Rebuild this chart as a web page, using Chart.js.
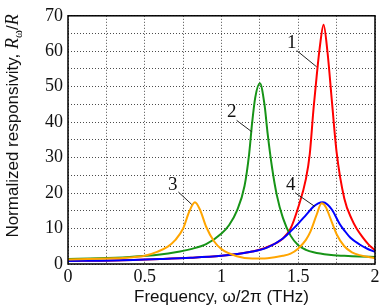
<!DOCTYPE html>
<html>
<head>
<meta charset="utf-8">
<script src="https://cdn.jsdelivr.net/npm/chart.js@4.4.1/dist/chart.umd.min.js"></script>
<style>
  body { margin: 0; background: #fff; }
  canvas { display: block; }
</style>
</head>
<body>
<canvas id="myChart" width="382" height="307"></canvas>
<script>
// curve 1 (red)
const freqRed = [0, 0.3, 0.6, 0.8, 1.0, 1.1, 1.2, 1.3, 1.4, 1.45, 1.5, 1.55, 1.575, 1.6, 1.62, 1.64, 1.665, 1.69, 1.72, 1.75, 1.8, 1.85, 1.88, 1.92, 1.96, 2.0];
const valRed  = [0.85, 1.0, 1.4, 1.75, 2.3, 2.8, 3.5, 4.8, 7.2, 10, 16, 24, 31, 44, 53, 61, 67.5, 60, 45.5, 31.5, 18.5, 12.5, 10, 7.5, 5.4, 3.9];
// curve 2 (green)
const freqGreen = [0, 0.2, 0.4, 0.6, 0.7, 0.8, 0.9, 1.0, 1.05, 1.1, 1.15, 1.18, 1.2, 1.22, 1.25, 1.28, 1.3, 1.33, 1.36, 1.4, 1.45, 1.5, 1.55, 1.6, 1.7, 1.8, 1.9, 2.0];
const valGreen  = [1.4, 1.6, 2.0, 2.7, 3.3, 4.2, 5.6, 8.6, 11, 15, 22, 31, 40, 47, 51, 45, 37, 27, 19.5, 13, 8, 5.3, 4.0, 3.3, 2.6, 2.3, 2.1, 2.0];
// curve 3 (orange)
const freqOrange = [0, 0.2, 0.3, 0.4, 0.5, 0.58, 0.65, 0.7, 0.75, 0.79, 0.827, 0.86, 0.9, 0.95, 1.0, 1.1, 1.2, 1.3, 1.4, 1.45, 1.5, 1.55, 1.58, 1.62, 1.652, 1.68, 1.71, 1.75, 1.8, 1.85, 1.9, 2.0];
const valOrange  = [1.3, 1.45, 1.6, 1.85, 2.3, 3.4, 4.9, 6.8, 10, 14.8, 17.4, 15.3, 10.5, 6.5, 4.2, 2.2, 1.55, 1.65, 2.3, 2.9, 4.4, 6.8, 9.2, 13.9, 17.1, 16, 12.8, 8.4, 5.0, 3.3, 2.5, 1.6];
// curve 4 (blue)
const freqBlue = [0, 0.3, 0.6, 0.8, 1.0, 1.1, 1.2, 1.3, 1.4, 1.45, 1.5, 1.55, 1.6, 1.63, 1.66, 1.69, 1.72, 1.77, 1.8, 1.84, 1.9, 1.95, 2.0];
const valBlue  = [0.85, 1.0, 1.4, 1.75, 2.3, 2.8, 3.5, 4.7, 7.2, 9.2, 11.4, 13.8, 16.2, 17.1, 17.4, 16.8, 15.3, 11.3, 9.5, 7.4, 5.5, 4.3, 3.4];

const xTickLabels = [0, 0.5, 1, 1.5, 2];
const yTickLabels = [0, 10, 20, 30, 40, 50, 60, 70];

// curve numbers and their leader lines (data units)
const curveNames = ["1", "2", "3", "4"];
const nameX = [1.457, 1.066, 0.682, 1.451];
const nameY = [62.4, 42.8, 22.3, 22.2];
const leaderFrom = [[1.49, 60.2], [1.099, 40.5], [0.719, 20.3], [1.479, 20.1]];
const leaderTo = [[1.62, 55.6], [1.197, 37.3], [0.806, 16.8], [1.609, 16.2]];

const SERIF = "'Liberation Serif', 'Times New Roman', serif";
const SANS = "'Liberation Sans', Arial, sans-serif";

function toPoints(xs, ys) {
  return xs.map((x, i) => ({ x: x, y: ys[i] }));
}

const extras = {
  id: "extras",
  afterDatasetsDraw(chart) {
    const ctx = chart.ctx;
    const a = chart.chartArea;
    const sx = chart.scales.x;
    const sy = chart.scales.y;
    ctx.save();
    // frame
    ctx.strokeStyle = "#000";
    ctx.lineWidth = 1.5;
    ctx.strokeRect(a.left, a.top, a.right - a.left, a.bottom - a.top);
    // curve numbers
    ctx.lineWidth = 1;
    ctx.strokeStyle = "#222";
    ctx.fillStyle = "#111";
    ctx.font = "19px " + SERIF;
    ctx.textAlign = "center";
    ctx.textBaseline = "middle";
    curveNames.forEach((n, i) => {
      ctx.fillText(n, sx.getPixelForValue(nameX[i]), sy.getPixelForValue(nameY[i]));
      ctx.beginPath();
      ctx.moveTo(sx.getPixelForValue(leaderFrom[i][0]), sy.getPixelForValue(leaderFrom[i][1]));
      ctx.lineTo(sx.getPixelForValue(leaderTo[i][0]), sy.getPixelForValue(leaderTo[i][1]));
      ctx.stroke();
    });
    // x title
    ctx.font = "17px " + SANS;
    ctx.textBaseline = "alphabetic";
    ctx.fillText("Frequency, \u03c9/2\u03c0 (THz)", (a.left + a.right) / 2, 302);
    // y title with R_omega / R
    const parts = [
      { t: "Normalized responsivity, ", f: "17px " + SANS, dy: 0 },
      { t: "R", f: "italic 18px " + SERIF, dy: 0 },
      { t: "\u03c9", f: "12px " + SERIF, dy: 4 },
      { t: "/", f: "17px " + SANS, dy: 0 },
      { t: "R", f: "italic 18px " + SERIF, dy: 0 }
    ];
    let total = 0;
    parts.forEach(p => { ctx.font = p.f; p.w = ctx.measureText(p.t).width; total += p.w; });
    ctx.translate(18, 126);
    ctx.rotate(-Math.PI / 2);
    ctx.textAlign = "left";
    let px = -total / 2;
    parts.forEach(p => {
      ctx.font = p.f;
      ctx.fillText(p.t, px, p.dy);
      px += p.w;
    });
    ctx.restore();
  }
};

const data = {
  datasets: [
    { label: "3", data: toPoints(freqOrange, valOrange), borderColor: "#ffa500" },
    { label: "4", data: toPoints(freqBlue, valBlue), borderColor: "#0000ff" },
    { label: "2", data: toPoints(freqGreen, valGreen), borderColor: "#179417" },
    { label: "1", data: toPoints(freqRed, valRed), borderColor: "#ff0000" }
  ].map(d => Object.assign(d, {
    borderWidth: 2,
    pointRadius: 0,
    fill: false,
    cubicInterpolationMode: "monotone"
  }))
};

const config = {
  type: "line",
  data,
  options: {
    responsive: false,
    animation: false,
    devicePixelRatio: 1,
    layout: { padding: { top: 8, right: 7, left: 0, bottom: 0 } },
    plugins: { legend: { display: false }, tooltip: { enabled: false } },
    scales: {
      x: {
        type: "linear",
        min: 0,
        max: 2,
        afterFit: s => { s.height = 43; },
        ticks: {
          stepSize: 0.25,
          autoSkip: false,
          maxRotation: 0,
          padding: 2,
          color: "#111",
          font: { family: SERIF, size: 18 },
          callback: v => (xTickLabels.includes(v) ? String(v) : "")
        },
        grid: { color: "rgba(0,0,0,0.7)", lineWidth: 1, drawTicks: false },
        border: { display: false, dash: [1, 2] }
      },
      y: {
        min: 0,
        max: 70,
        afterFit: s => { s.width = 68; },
        ticks: {
          stepSize: 5,
          autoSkip: false,
          padding: 5,
          color: "#111",
          font: { family: SERIF, size: 18 },
          callback: v => (yTickLabels.includes(v) ? String(v) : "")
        },
        grid: { color: "rgba(0,0,0,0.7)", lineWidth: 1, drawTicks: false },
        border: { display: false, dash: [1, 2] }
      }
    }
  },
  plugins: [extras]
};

const myChart = new Chart(document.getElementById("myChart"), config);
</script>
</body>
</html>
